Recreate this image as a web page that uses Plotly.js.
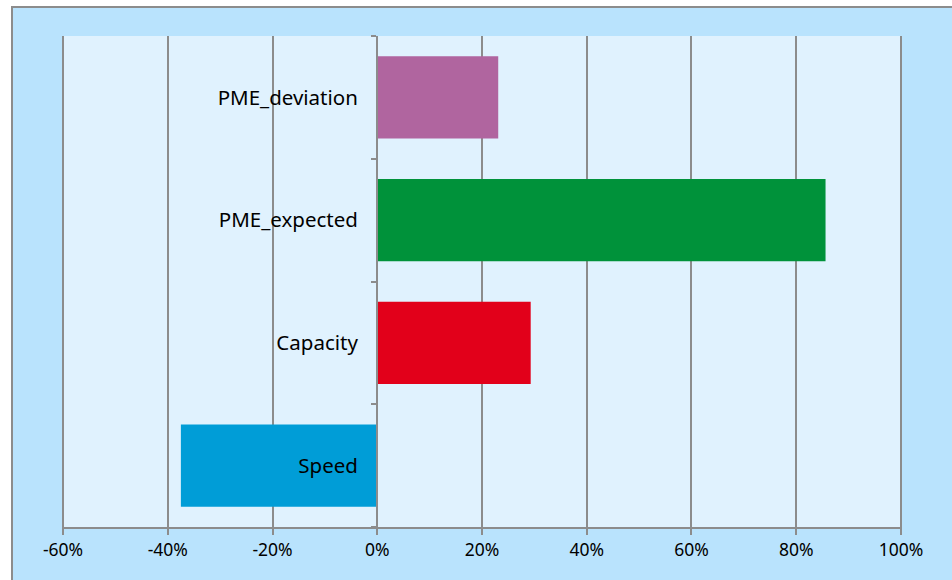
<!DOCTYPE html>
<html>
<head>
<meta charset="utf-8">
<script src="https://cdn.plot.ly/plotly-3.0.1.min.js"></script>
<style>
  html, body { margin: 0; padding: 0; width: 952px; height: 580px; overflow: hidden; background: #ffffff; }
  #chart { position: absolute; left: 11px; top: 6px; width: 960px; height: 590px; border: 2px solid #8c8c8c; }
</style>
</head>
<body>
<div id="chart"></div>
<script>
// Data
const categories = ['Speed', 'Capacity', 'PME_expected', 'PME_deviation'];
const values = [-37.5, 29.3, 85.6, 23.1];
const barColors = ['#009dd7', '#e2001a', '#00923a', '#b0659f'];
const tickValues = [-60, -40, -20, 0, 20, 40, 60, 80, 100];
const tickLabels = ['-60%', '-40%', '-20%', '0%', '20%', '40%', '60%', '80%', '100%'];

const trace = {
  type: 'bar',
  orientation: 'h',
  y: categories,
  x: values,
  marker: { color: barColors, line: { width: 0 } },
  hoverinfo: 'skip'
};

const gridGray = '#8c8c8c';

const layout = {
  width: 960,
  height: 590,
  margin: { l: 49, r: 71, t: 28, b: 71, pad: 0 },
  paper_bgcolor: '#b9e3fd',
  plot_bgcolor: '#e0f2fe',
  showlegend: false,
  bargap: 0.33,
  font: { family: 'Noto Sans, DejaVu Sans, sans-serif', color: '#000000' },
  xaxis: {
    range: [-60.2, 100.2],
    tickvals: tickValues,
    ticktext: tickLabels,
    showgrid: true,
    gridcolor: gridGray,
    gridwidth: 2,
    zeroline: false,
    showline: true,
    linecolor: gridGray,
    linewidth: 2,
    ticks: 'outside',
    ticklen: 6,
    tickwidth: 2,
    tickcolor: gridGray,
    tickfont: { size: 17.5, family: 'Noto Sans, DejaVu Sans, sans-serif', color: '#000000' },
    fixedrange: true
  },
  yaxis: {
    type: 'category',
    anchor: 'free',
    position: 0.375,
    showgrid: false,
    zeroline: false,
    showline: true,
    linecolor: gridGray,
    linewidth: 2,
    ticks: 'outside',
    tickson: 'boundaries',
    ticklen: 5,
    tickwidth: 2,
    tickcolor: gridGray,
    ticklabelstandoff: 14,
    tickfont: { size: 20.5, family: 'Noto Sans, DejaVu Sans, sans-serif', color: '#000000' },
    layer: 'above traces',
    fixedrange: true
  }
};

Plotly.newPlot('chart', [trace], layout, { displayModeBar: false, staticPlot: true });
</script>
</body>
</html>
